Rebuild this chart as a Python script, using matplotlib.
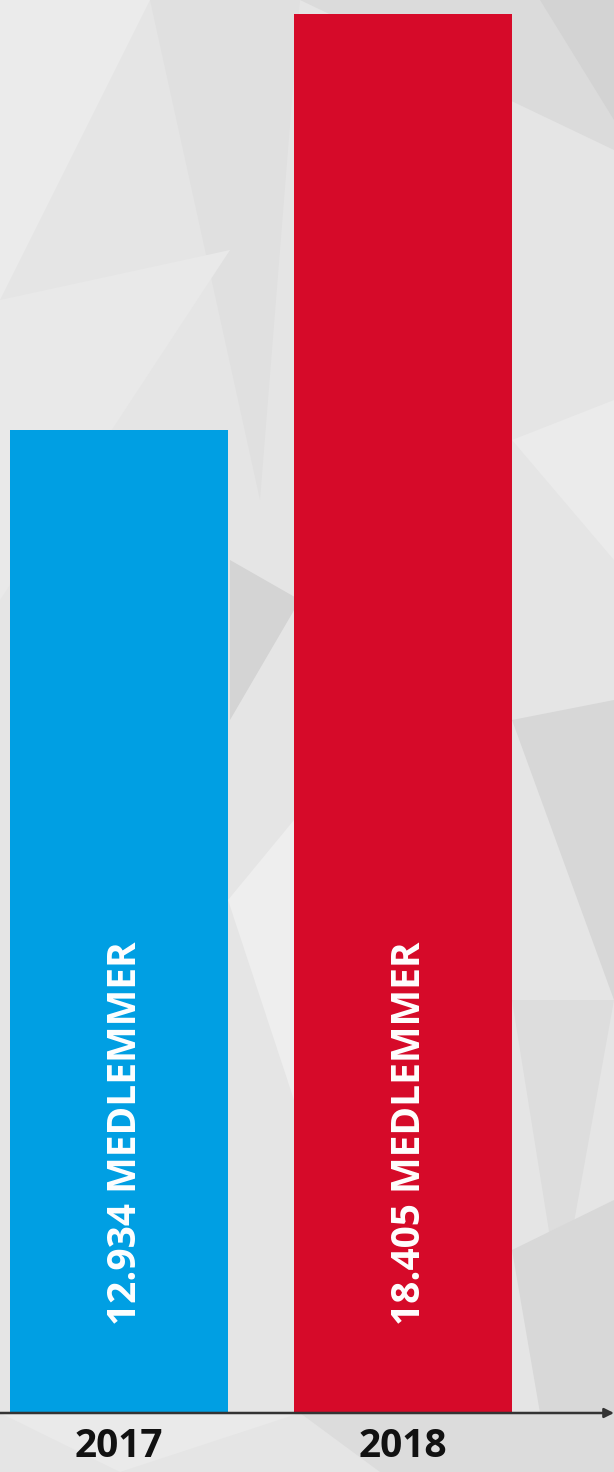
import matplotlib
matplotlib.use("Agg")
import matplotlib.pyplot as plt
from matplotlib.patches import Polygon

years = ["2017", "2018"]
members = [12934, 18405]
labels = ["12.934 MEDLEMMER", "18.405 MEDLEMMER"]
colors = ["#009fe3", "#d60a29"]

W, H = 614, 1472
fig = plt.figure(figsize=(W / 100, H / 100), dpi=100)
fig.patch.set_facecolor("#e5e5e5")

# decorative low-poly background
bg = fig.add_axes([0, 0, 1, 1], zorder=0)
bg.set_xlim(0, W); bg.set_ylim(H, 0); bg.axis("off")
tris = [
    ([(0, 0), (150, 0), (0, 300)], "#ebebeb"),
    ([(150, 0), (300, 0), (260, 500)], "#e0e0e0"),
    ([(300, 0), (614, 0), (614, 150)], "#dbdbdb"),
    ([(540, 0), (614, 0), (614, 120)], "#d3d3d3"),
    ([(0, 300), (230, 250), (0, 600)], "#e9e9e9"),
    ([(230, 560), (300, 600), (230, 720)], "#d4d4d4"),
    ([(512, 440), (614, 400), (614, 560)], "#ebebeb"),
    ([(512, 720), (614, 700), (614, 1000)], "#d7d7d7"),
    ([(512, 1000), (614, 1000), (560, 1300)], "#dddddd"),
    ([(228, 900), (294, 820), (294, 1100)], "#eeeeee"),
    ([(0, 1413), (300, 1413), (120, 1472)], "#eaeaea"),
    ([(300, 1413), (614, 1413), (614, 1472), (380, 1472)], "#dcdcdc"),
    ([(512, 1250), (614, 1200), (614, 1413), (540, 1413)], "#d8d8d8"),
]
for pts, c in tris:
    bg.add_patch(Polygon(pts, closed=True, facecolor=c, edgecolor="none"))

base_px = 1413
ax = fig.add_axes([0, (H - base_px) / H, 1, base_px / H], zorder=1)
ax.patch.set_alpha(0)
x = list(range(len(years)))
ax.bar(x, members, width=218 / 284, color=colors, zorder=2)
ax.set_xlim(-119 / 284, (614 - 119) / 284)
ax.set_ylim(0, 18405 * 1413 / 1399)
for s in ["top", "right", "left", "bottom"]:
    ax.spines[s].set_visible(False)
ax.set_yticks([])
ax.set_xticks(x)
ax.set_xticklabels(years, fontsize=28, fontweight="bold", family="Open Sans", color="#111111")
ax.tick_params(axis="x", length=0, pad=10)

# baseline with arrow
ax.annotate("", xy=(1.0, 0), xycoords="axes fraction", xytext=(0, 0),
            textcoords="axes fraction",
            arrowprops=dict(arrowstyle="-|>", color="#333333", lw=1.8,
                            mutation_scale=14, shrinkA=0, shrinkB=0),
            zorder=3, annotation_clip=False)

# rotated value labels
yfrac_bottom = (base_px - 1325) / base_px
for i, (lab, v) in enumerate(zip(labels, members)):
    ax.text(i + 6 / 284, yfrac_bottom * ax.get_ylim()[1], lab, rotation=90,
            ha="center", va="bottom", color="white", fontsize=28,
            fontweight="bold", family="Open Sans", zorder=4)

fig.savefig("out.png", dpi=100)
